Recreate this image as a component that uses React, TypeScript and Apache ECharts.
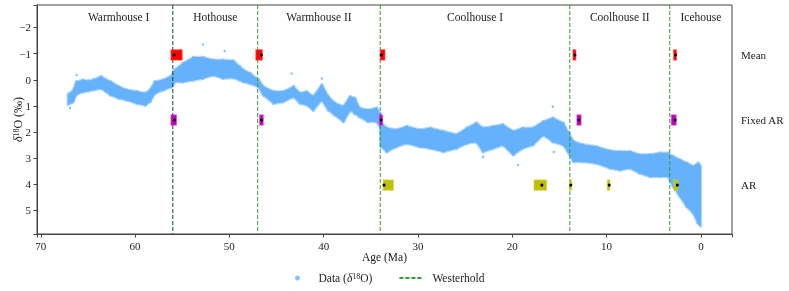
import React, { useEffect, useRef } from 'react';
import * as echarts from 'echarts';

// δ18O envelope (age in Ma, lower / upper value of the point cloud)
const ages = [67.1, 66.6, 66.2, 65.5, 64.9, 64.4, 63.6, 63.1, 62.6, 61.7, 60.9, 59.8, 58.9, 58.4, 57.9, 57.0, 56.1, 55.8, 54.9, 53.8, 52.8, 51.7, 50.7, 49.6, 48.9, 48.5, 47.8, 46.9, 46.4, 45.3, 44.3, 43.2, 42.5, 41.8, 41.1, 40.2, 39.5, 38.8, 37.9, 37.2, 36.7, 36.2, 35.3, 34.4, 34.0, 33.9, 33.3, 32.3, 31.2, 29.8, 28.7, 27.3, 25.9, 24.8, 23.8, 23.1, 22.0, 21.0, 19.9, 18.9, 17.8, 16.7, 15.7, 14.6, 14.1, 13.5, 12.5, 11.1, 9.65, 8.6, 7.5, 6.5, 5.4, 4.35, 3.47, 2.94, 2.2, 1.5, 0.8, 0.3, 0.03];
const lowVals = [0.55, 0.45, 0.08, 0.02, 0.05, 0.0, -0.12, 0.0, 0.08, 0.27, 0.39, 0.46, 0.52, 0.39, 0.08, 0.01, -0.15, -0.37, -0.63, -0.85, -0.85, -0.75, -0.75, -0.72, -0.5, -0.37, -0.24, 0.01, 0.27, 0.46, 0.46, 0.27, 0.52, 0.46, 0.65, 0.2, 0.65, 0.9, 1.03, 0.65, 0.71, 1.09, 1.16, 1.09, 1.3, 1.66, 1.85, 1.92, 1.79, 1.92, 1.85, 1.98, 2.1, 1.85, 1.66, 1.85, 1.79, 1.72, 1.98, 1.85, 1.85, 1.6, 1.47, 1.66, 2.0, 2.37, 2.49, 2.56, 2.72, 2.75, 2.75, 2.87, 2.87, 2.81, 2.81, 2.94, 3.07, 3.19, 3.32, 3.19, 3.3];
const highVals = [0.95, 0.85, 0.55, 0.46, 0.42, 0.38, 0.33, 0.45, 0.58, 0.71, 0.77, 0.9, 0.97, 0.83, 0.52, 0.39, 0.27, 0.08, 0.08, 0.01, -0.06, -0.18, -0.06, -0.08, 0.01, 0.08, 0.14, 0.27, 0.58, 0.9, 0.84, 0.65, 0.9, 0.96, 1.16, 0.77, 1.16, 1.35, 1.6, 1.16, 1.29, 1.41, 1.6, 1.6, 1.8, 2.56, 2.75, 2.56, 2.43, 2.56, 2.62, 2.75, 2.62, 2.43, 2.37, 2.75, 2.62, 2.49, 2.87, 2.62, 2.49, 2.11, 2.37, 2.49, 2.75, 3.13, 3.13, 3.19, 3.38, 3.45, 3.38, 3.57, 3.7, 3.7, 3.7, 4.08, 4.47, 4.85, 5.1, 5.48, 5.6];

// isolated data points
const outlierAges = [66.9, 66.2, 52.8, 50.5, 43.4, 40.2, 23.1, 19.4, 15.7, 15.6];
const outlierVals = [1.08, -0.18, -1.35, -1.1, -0.24, -0.05, 2.95, 3.26, 1.03, 2.76];

// Westerhold boundaries
const westerholdAges = [56, 47, 34, 13.9, 3.3];
const regionNames = ['Warmhouse I', 'Hothouse', 'Warmhouse II', 'Coolhouse I', 'Coolhouse II', 'Icehouse'];
const regionBounds = [67.5, 56, 47, 34, 13.9, 3.3, -3.3];

// change-point rows
const rowNames = ['Mean', 'Fixed AR', 'AR'];
const rowLevels = [-0.95, 1.54, 4.03];

const meanStart = [56.2, 47.2, 34.0, 13.57, 2.9];
const meanEnd = [55.0, 46.5, 33.5, 13.25, 2.58];
const meanPoint = [55.85, 46.6, 33.9, 13.36, 2.68];

const fixedStart = [56.2, 46.8, 34.1, 13.15, 3.14];
const fixedEnd = [55.6, 46.4, 33.75, 12.7, 2.62];
const fixedPoint = [55.8, 46.6, 33.9, 12.94, 2.72];

const arStart = [33.7, 17.7, 13.9, 9.93, 2.86];
const arEnd = [32.6, 16.36, 13.7, 9.65, 2.47];
const arPoint = [33.6, 16.86, 13.8, 9.72, 2.5];

const X_MIN = -3.3;
const X_MAX = 70.4;
const Y_MIN = -2.86;
const Y_MAX = 5.9;

const FONT = '"Liberation Serif", "Times New Roman", serif';
const BLUE = '#66b1fb';
const BLUE_HALO = 'rgba(102,177,251,0.45)';
const rowColors = ['#ff0000', '#bf00bf', '#bfbf00'];
const rowEdge = ['rgba(255,80,80,0.5)', 'rgba(210,80,210,0.5)', 'rgba(215,215,80,0.5)'];
const lineColors = ['#1f4a22', '#2ca02c', '#2ca02c', '#2ca02c', '#2ca02c'];

export default function App() {
  const ref = useRef<HTMLDivElement>(null);

  useEffect(() => {
    if (!ref.current) return;
    const chart = echarts.init(ref.current, undefined, { renderer: 'svg' });

    const bandData = ages.slice(0, -1).map((a, i) => [a, lowVals[i], highVals[i], ages[i + 1], lowVals[i + 1], highVals[i + 1]]);
    const markerData: number[][] = [];
    [
      [meanStart, meanEnd, meanPoint],
      [fixedStart, fixedEnd, fixedPoint],
      [arStart, arEnd, arPoint],
    ].forEach((set, r) => {
      set[0].forEach((s, i) => markerData.push([s, set[1][i], set[2][i], rowLevels[r], r]));
    });

    const bandRenderer = (halo: boolean) => (params: any, api: any) => {
      const a = api.coord([api.value(0), api.value(1)]);
      const b = api.coord([api.value(3), api.value(4)]);
      const c = api.coord([api.value(3), api.value(5)]);
      const d = api.coord([api.value(0), api.value(2)]);
      return {
        type: 'polygon',
        shape: { points: [a, b, c, d] },
        style: halo
          ? { fill: 'none', stroke: BLUE_HALO, lineWidth: 3.5, lineJoin: 'round' }
          : { fill: BLUE, stroke: BLUE, lineWidth: 1 },
      };
    };

    const option: any = {
      animation: false,
      textStyle: { fontFamily: FONT },
      grid: {
        left: 37, right: 57, top: 5, bottom: 57,
        show: true, borderColor: '#444', borderWidth: 1,
        containLabel: false, outerBoundsMode: 'none',
      },
      xAxis: {
        type: 'value',
        inverse: true,
        min: X_MIN,
        max: X_MAX,
        splitNumber: 7,
        splitLine: { show: false },
        axisLine: { onZero: false, lineStyle: { color: '#444' } },
        axisTick: { length: 3.5, lineStyle: { color: '#444' } },
        axisLabel: {
          margin: 6,
          fontSize: 11,
          fontFamily: FONT,
          color: '#222',
          formatter: (v: number) => (Math.abs(v % 10) < 1e-6 ? String(v) : ''),
        },
        name: 'Age (Ma)',
        nameLocation: 'middle',
        nameGap: 17,
        nameMoveOverlap: false,
        nameTextStyle: { fontSize: 11.5, fontFamily: FONT, color: '#222', verticalAlign: 'top' },
      },
      yAxis: {
        type: 'value',
        inverse: true,
        min: Y_MIN,
        max: Y_MAX,
        splitNumber: 8,
        splitLine: { show: false },
        axisLine: { show: true, onZero: false, lineStyle: { color: '#444' } },
        axisTick: { show: true, length: 3.5, lineStyle: { color: '#444' } },
        axisLabel: {
          margin: 6,
          fontSize: 11,
          fontFamily: FONT,
          color: '#222',
          formatter: (v: number) => (Math.abs(v - Math.round(v)) < 1e-6 ? String(Math.round(v)).replace('-', '\u2212') : ''),
        },
        name: '{it|δ}{sup|18}O (‰)',
        nameLocation: 'middle',
        nameGap: 13,
        nameRotate: 90,
        nameMoveOverlap: false,
        nameTextStyle: {
          fontSize: 12,
          fontFamily: FONT,
          color: '#222',
          rich: {
            it: { fontSize: 12, fontStyle: 'italic', fontFamily: FONT, color: '#222' },
            sup: { fontSize: 8, fontFamily: FONT, color: '#222', verticalAlign: 'top', lineHeight: 12 },
          },
        },
      },
      legend: {
        left: 290,
        top: 267,
        itemWidth: 24,
        itemHeight: 5,
        itemGap: 26,
        data: [
          { name: 'Data', icon: 'circle' },
          { name: 'Westerhold', itemStyle: { opacity: 0, borderWidth: 0 } },
        ],
        formatter: (name: string) => (name === 'Data' ? 'Data ({it|δ}{sup|18}O)' : name),
        textStyle: {
          fontSize: 11.5,
          fontFamily: FONT,
          color: '#222',
          padding: [0, 0, 0, 4],
          rich: {
            it: { fontSize: 11.5, fontStyle: 'italic', fontFamily: FONT, color: '#222' },
            sup: { fontSize: 8, fontFamily: FONT, color: '#222', verticalAlign: 'top', lineHeight: 11 },
          },
        },
      },
      series: [
        {
          type: 'custom',
          name: 'bandHalo',
          silent: true,
          coordinateSystem: 'cartesian2d',
          encode: { x: [0, 3], y: [1, 2, 4, 5] },
          data: bandData,
          renderItem: bandRenderer(true),
          z: 1,
        },
        {
          type: 'custom',
          name: 'band',
          silent: true,
          coordinateSystem: 'cartesian2d',
          encode: { x: [0, 3], y: [1, 2, 4, 5] },
          data: bandData,
          renderItem: bandRenderer(false),
          z: 1,
        },
        {
          type: 'scatter',
          name: 'Data',
          data: outlierAges.map((a, i) => [a, outlierVals[i]]),
          symbolSize: 2.5,
          itemStyle: { color: BLUE },
          silent: true,
          z: 2,
        },
        {
          type: 'line',
          name: 'Westerhold',
          data: [],
          symbol: 'none',
          showSymbol: false,
          itemStyle: { color: '#2ca02c' },
          lineStyle: { color: '#2ca02c', width: 1, type: [4, 2] },
        },
        {
          type: 'custom',
          name: 'lines',
          silent: true,
          coordinateSystem: 'cartesian2d',
          encode: { x: 0 },
          data: westerholdAges.map((a, i) => [a, i]),
          renderItem: (params: any, api: any) => {
            const a = api.value(0);
            const i = api.value(1);
            const p1 = api.coord([a, Y_MIN]);
            const p2 = api.coord([a, Y_MAX]);
            return {
              type: 'line',
              shape: { x1: p1[0], y1: p1[1], x2: p2[0], y2: p2[1] },
              style: { stroke: lineColors[i], lineWidth: 1, lineDash: [4, 2] },
            };
          },
          z: 3,
        },
        {
          type: 'custom',
          name: 'markers',
          silent: true,
          coordinateSystem: 'cartesian2d',
          encode: { x: [0, 1, 2], y: 3 },
          data: markerData,
          renderItem: (params: any, api: any) => {
            const s = api.value(0);
            const e = api.value(1);
            const p = api.value(2);
            const lvl = api.value(3);
            const r = api.value(4);
            const c1 = api.coord([s, lvl - 0.2]);
            const c2 = api.coord([e, lvl + 0.2]);
            const cp = api.coord([p, lvl]);
            return {
              type: 'group',
              children: [
                {
                  type: 'rect',
                  shape: {
                    x: Math.min(c1[0], c2[0]),
                    y: Math.min(c1[1], c2[1]),
                    width: Math.abs(c2[0] - c1[0]),
                    height: Math.abs(c2[1] - c1[1]),
                  },
                  style: { fill: rowColors[r], stroke: rowEdge[r], lineWidth: 1.2 },
                },
                {
                  type: 'circle',
                  shape: { cx: cp[0], cy: cp[1], r: 1.5 },
                  style: { fill: '#000' },
                },
              ],
            };
          },
          z: 4,
        },
        {
          type: 'custom',
          name: 'regions',
          silent: true,
          coordinateSystem: 'cartesian2d',
          encode: { x: 0, y: 1 },
          data: regionNames.map((_, i) => [(regionBounds[i] + regionBounds[i + 1]) / 2, -2.39, i]),
          renderItem: (params: any, api: any) => {
            const pt = api.coord([api.value(0), api.value(1)]);
            return {
              type: 'text',
              x: pt[0],
              y: pt[1],
              style: {
                text: regionNames[api.value(2)],
                fill: '#222',
                fontSize: 11.5,
                fontFamily: FONT,
                align: 'center',
                verticalAlign: 'middle',
              },
            };
          },
          z: 5,
        },
        {
          type: 'custom',
          name: 'rows',
          silent: true,
          clip: false,
          coordinateSystem: 'cartesian2d',
          encode: { y: 0 },
          data: rowLevels.map((y, i) => [y, i]),
          renderItem: (params: any, api: any) => {
            const pt = api.coord([X_MIN, api.value(0)]);
            return {
              type: 'text',
              x: pt[0] + 9,
              y: pt[1],
              style: {
                text: rowNames[api.value(1)],
                fill: '#222',
                fontSize: 11,
                fontFamily: FONT,
                align: 'left',
                verticalAlign: 'middle',
              },
            };
          },
          z: 5,
        },
      ],
    };

    chart.setOption(option);
    return () => chart.dispose();
  }, []);

  return <div ref={ref} style={{ position: 'fixed', left: 0, top: 0, width: 789, height: 291 }} />;
}
